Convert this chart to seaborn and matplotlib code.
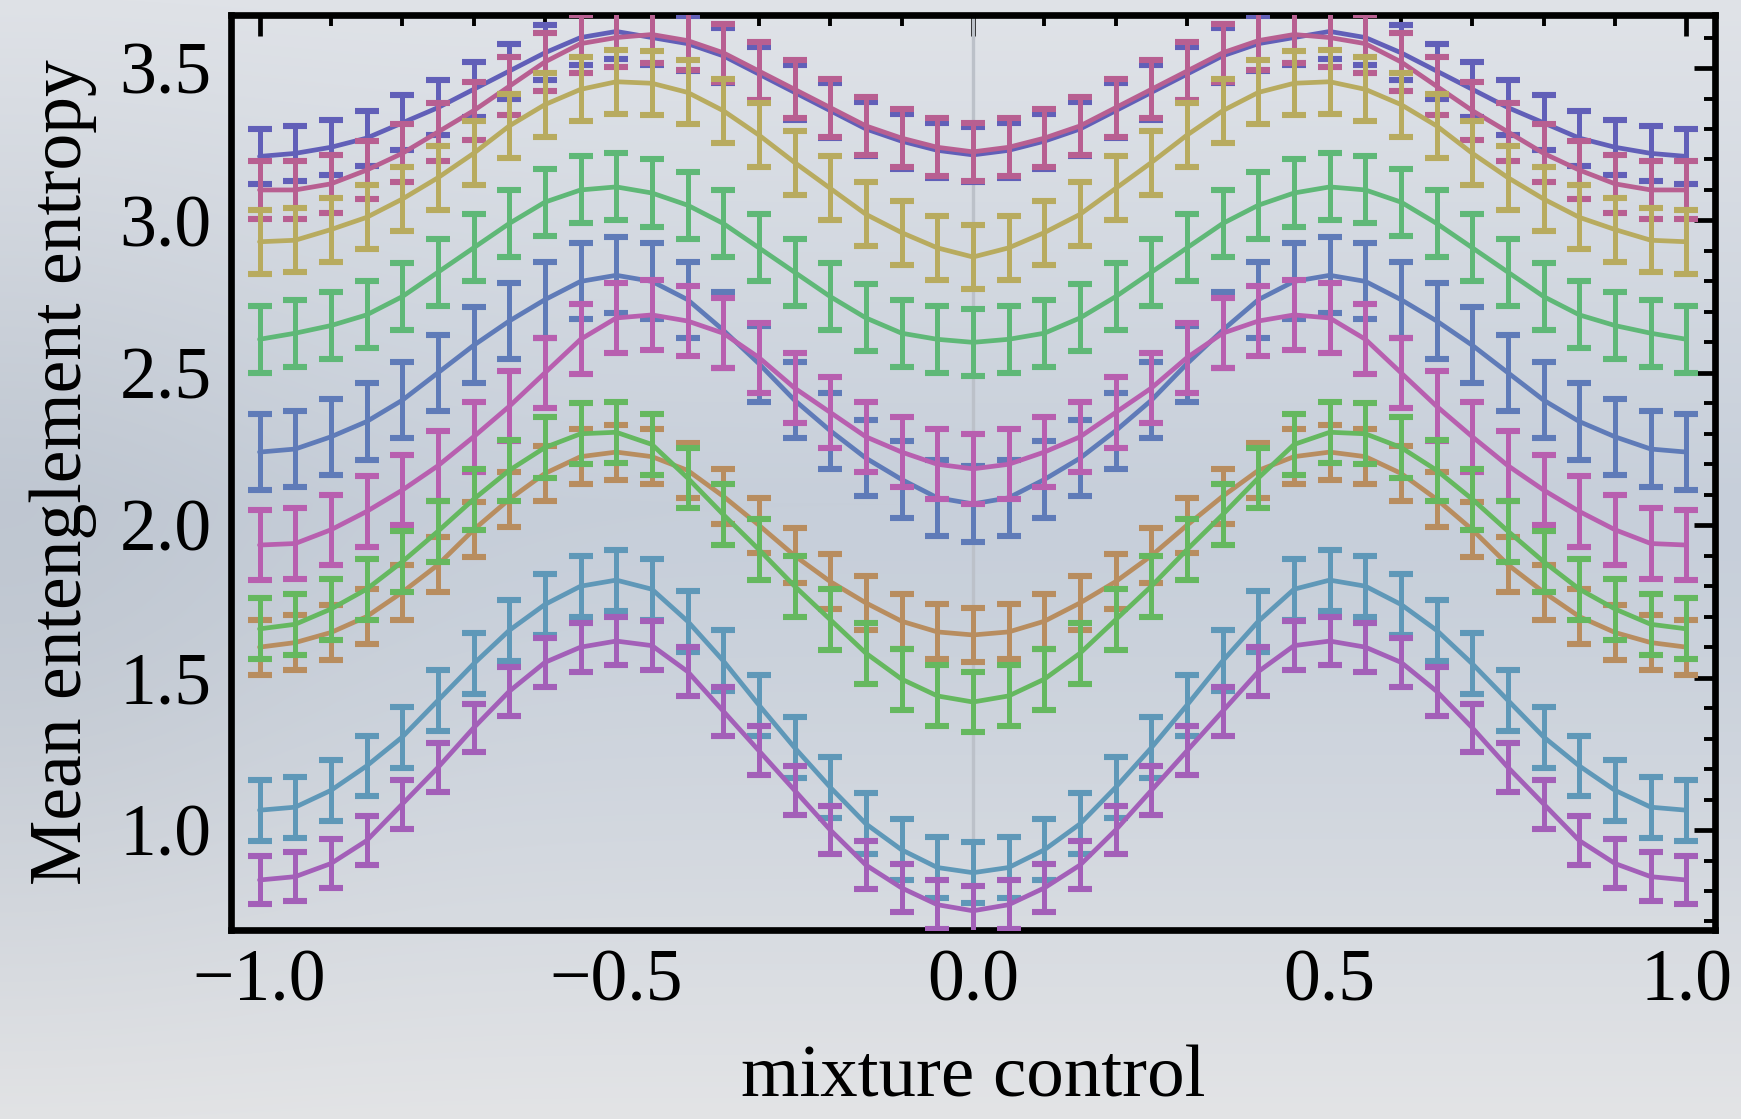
import colorsys
import numpy as np
import pandas as pd
import matplotlib
matplotlib.use("Agg")
import matplotlib.pyplot as plt
from matplotlib.ticker import MultipleLocator
import seaborn as sns

# mixture-control sample points
mixture = np.linspace(-1.0, 1.0, 41)

# mean entanglement entropy for each configuration (top to bottom at the edges)
s1 = [3.21, 3.22, 3.24, 3.27, 3.32, 3.37, 3.43, 3.49, 3.55, 3.60, 3.62, 3.60, 3.58, 3.54,
      3.48, 3.42, 3.36, 3.30, 3.26, 3.23, 3.215, 3.23, 3.26, 3.30, 3.36, 3.42, 3.48, 3.54,
      3.58, 3.60, 3.62, 3.60, 3.55, 3.49, 3.43, 3.37, 3.32, 3.27, 3.24, 3.22, 3.21]
s2 = [3.10, 3.10, 3.12, 3.165, 3.22, 3.29, 3.36, 3.44, 3.52, 3.58, 3.60, 3.61, 3.59, 3.55,
      3.49, 3.43, 3.37, 3.31, 3.27, 3.24, 3.225, 3.24, 3.27, 3.31, 3.37, 3.43, 3.49, 3.55,
      3.59, 3.61, 3.60, 3.58, 3.52, 3.44, 3.36, 3.29, 3.22, 3.165, 3.12, 3.10, 3.10]
s3 = [2.93, 2.935, 2.97, 3.01, 3.07, 3.14, 3.22, 3.31, 3.38, 3.43, 3.455, 3.45, 3.42, 3.36,
      3.28, 3.19, 3.105, 3.02, 2.96, 2.91, 2.88, 2.91, 2.96, 3.02, 3.105, 3.19, 3.28, 3.36,
      3.42, 3.45, 3.455, 3.43, 3.38, 3.31, 3.22, 3.14, 3.07, 3.01, 2.97, 2.935, 2.93]
s4 = [2.61, 2.63, 2.655, 2.69, 2.75, 2.83, 2.91, 2.99, 3.06, 3.10, 3.11, 3.09, 3.05, 2.99,
      2.91, 2.83, 2.75, 2.68, 2.63, 2.61, 2.60, 2.61, 2.63, 2.68, 2.75, 2.83, 2.91, 2.99,
      3.05, 3.09, 3.11, 3.10, 3.06, 2.99, 2.91, 2.83, 2.75, 2.69, 2.655, 2.63, 2.61]
s5 = [2.24, 2.25, 2.29, 2.34, 2.41, 2.50, 2.59, 2.67, 2.74, 2.80, 2.82, 2.80, 2.74, 2.64,
      2.53, 2.41, 2.31, 2.22, 2.15, 2.09, 2.07, 2.09, 2.15, 2.22, 2.31, 2.41, 2.53, 2.64,
      2.74, 2.80, 2.82, 2.80, 2.74, 2.67, 2.59, 2.50, 2.41, 2.34, 2.29, 2.25, 2.24]
s6 = [1.935, 1.94, 1.985, 2.045, 2.115, 2.195, 2.29, 2.39, 2.50, 2.61, 2.68, 2.69, 2.67, 2.63,
      2.55, 2.45, 2.37, 2.29, 2.24, 2.20, 2.185, 2.20, 2.24, 2.29, 2.37, 2.45, 2.55, 2.63,
      2.67, 2.69, 2.68, 2.61, 2.50, 2.39, 2.29, 2.195, 2.115, 2.045, 1.985, 1.94, 1.935]
s7 = [1.60, 1.615, 1.648, 1.70, 1.78, 1.87, 1.985, 2.085, 2.17, 2.225, 2.24, 2.225, 2.18, 2.095,
      2.00, 1.90, 1.815, 1.745, 1.685, 1.65, 1.64, 1.65, 1.685, 1.745, 1.815, 1.90, 2.00, 2.095,
      2.18, 2.225, 2.24, 2.225, 2.17, 2.085, 1.985, 1.87, 1.78, 1.70, 1.648, 1.615, 1.60]
s8 = [1.66, 1.675, 1.725, 1.79, 1.88, 1.98, 2.085, 2.18, 2.255, 2.30, 2.305, 2.265, 2.155, 2.035,
      1.92, 1.80, 1.69, 1.58, 1.495, 1.44, 1.42, 1.44, 1.495, 1.58, 1.69, 1.80, 1.92, 2.035,
      2.155, 2.265, 2.305, 2.30, 2.255, 2.18, 2.085, 1.98, 1.88, 1.79, 1.725, 1.675, 1.66]
s9 = [1.065, 1.075, 1.13, 1.21, 1.305, 1.425, 1.545, 1.655, 1.74, 1.80, 1.82, 1.79, 1.685, 1.555,
      1.41, 1.27, 1.14, 1.02, 0.935, 0.877, 0.86, 0.877, 0.935, 1.02, 1.14, 1.27, 1.41, 1.555,
      1.685, 1.79, 1.82, 1.80, 1.74, 1.655, 1.545, 1.425, 1.305, 1.21, 1.13, 1.075, 1.065]
s10 = [0.836, 0.847, 0.89, 0.965, 1.085, 1.205, 1.335, 1.455, 1.55, 1.60, 1.62, 1.605, 1.52, 1.39,
       1.26, 1.13, 1.00, 0.885, 0.81, 0.755, 0.735, 0.755, 0.81, 0.885, 1.00, 1.13, 1.26, 1.39,
       1.52, 1.605, 1.62, 1.60, 1.55, 1.455, 1.335, 1.205, 1.085, 0.965, 0.89, 0.847, 0.836]
series = [s1, s2, s3, s4, s5, s6, s7, s8, s9, s10]

# standard error of each configuration
errors = [0.09, 0.095, 0.105, 0.11, 0.125, 0.115, 0.09, 0.10, 0.10, 0.08]

# x and y ticks
xticks = [-1.0, -0.5, 0.0, 0.5, 1.0]
yticks = [1.0, 1.5, 2.0, 2.5, 3.0, 3.5]

W, H, DPI = 1741, 1119, 100
sns.set_theme(style="white")
plt.rcParams["font.family"] = ["Liberation Serif", "DejaVu Serif"]

fig = plt.figure(figsize=(W / DPI, H / DPI), dpi=DPI)

# soft grey-blue backdrop, darker toward the middle-left
yy = np.linspace(0, 1, H)[:, None]
xx = np.linspace(0, 1, W)[None, :]
top = np.array([224, 227, 232]) / 255
mid = np.array([199, 207, 218]) / 255
bot = np.array([227, 228, 230]) / 255
wt = np.clip(1 - yy / 0.45, 0, 1)
wb = np.clip((yy - 0.45) / 0.55, 0, 1) ** 1.4
base = (top * wt[..., None] + mid * (1 - wt[..., None]))
base = base * (1 - wb[..., None]) + bot * wb[..., None]
base = np.broadcast_to(base, (H, W, 3)).copy()
shade = 1 - 0.04 * np.exp(-((xx - 0.0) / 0.18) ** 2) * np.exp(-((yy - 0.5) / 0.35) ** 2)
bg = np.clip(base * shade[..., None], 0, 1)
fig.figimage(bg, 0, 0, zorder=-10)

ax = fig.add_axes([231 / W, 1 - 930 / H, (1715 - 231) / W, (930 - 15) / H])
ax.set_facecolor("none")
ax.patch.set_alpha(0)

ax.axvline(0.0, color="#bcc1c9", lw=2.4, zorder=1)

hues = [0.67, 0.906, 0.142, 0.378, 0.614, 0.850, 0.087, 0.323, 0.559, 0.795]
colors = [colorsys.hsv_to_rgb(h, 0.48, 0.72) for h in hues]

for k, (vals, err, col) in enumerate(zip(series, errors, colors)):
    df = pd.DataFrame({"mixture": mixture, "entropy": vals})
    z = 3 + k
    sns.lineplot(data=df, x="mixture", y="entropy", ax=ax, color=col, lw=3.4,
                 zorder=z, legend=False)
    eb = ax.errorbar(df["mixture"], df["entropy"], yerr=err, fmt="none", ecolor=col,
                     elinewidth=3.6, capsize=8.5, capthick=4.4, zorder=z)
    for cap in eb[1]:
        cap.set_solid_capstyle("round")

ax.set_xlim(-1.04, 1.04)
ax.set_ylim(0.672, 3.674)
ax.set_xticks(xticks)
ax.set_yticks(yticks)
ax.set_xticklabels([f"{t:.1f}".replace("-", "\u2212") for t in xticks])
ax.set_yticklabels([f"{t:.1f}" for t in yticks])
ax.xaxis.set_minor_locator(MultipleLocator(0.1))
ax.yaxis.set_minor_locator(MultipleLocator(0.1))
ax.tick_params(which="both", direction="in", top=True, right=True, colors="black",
               labelsize=53)
ax.tick_params(which="major", length=15, width=3.4, pad=14)
ax.tick_params(which="minor", length=8, width=2.8)
for sp in ax.spines.values():
    sp.set_visible(True)
    sp.set_color("black")
    sp.set_linewidth(4.8)

ax.set_xlabel("mixture control", fontsize=54, labelpad=20, color="black")
ax.set_ylabel("Mean entenglement entropy", fontsize=53, labelpad=16, color="black")

fig.savefig("out.png", dpi=DPI)
